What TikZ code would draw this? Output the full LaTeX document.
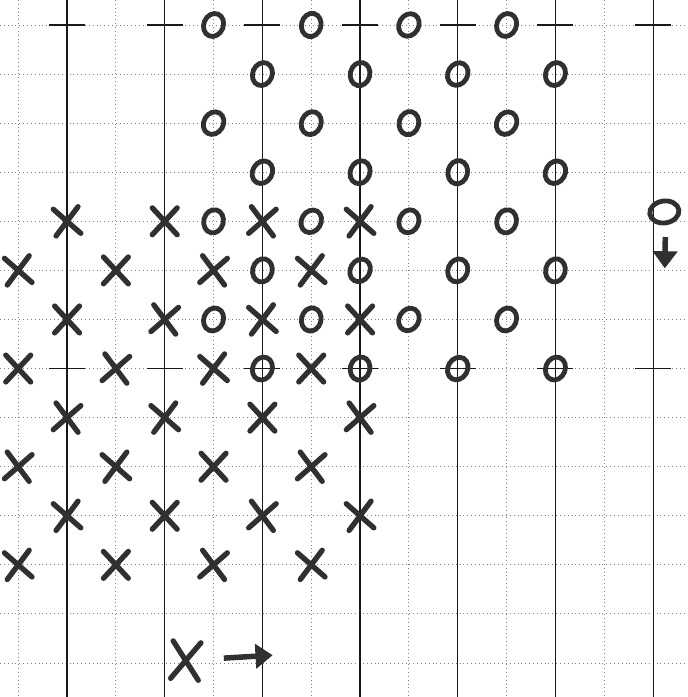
\documentclass[tikz,border=0pt]{standalone}
\usetikzlibrary{shapes.geometric,shapes.misc,arrows.meta,positioning}
\usepackage{xcolor}
\definecolor{Ink}{RGB}{48,48,48}
\definecolor{Pencil}{RGB}{25,25,25}
\definecolor{Dots}{RGB}{130,130,130}
\tikzset{
  omark/.style={ellipse,draw=Ink,line width=2.8pt,minimum width=.40cm,
                minimum height=.48cm,inner sep=0pt},
  xmark/.style={cross out,draw=Ink,line width=3.1pt,line cap=round,
                minimum width=.40cm,minimum height=.44cm,inner sep=0pt},
  bigo/.style={omark,minimum width=.60cm,minimum height=.45cm},
  bigx/.style={xmark,minimum width=.46cm,minimum height=.66cm},
  dotline/.style={draw=Dots,line width=.55pt,dash pattern=on .55pt off 1.7pt},
  solidrule/.style={draw=Pencil,line width=.7pt},
  legarrow/.style={-{Triangle[width=14pt,length=10pt]},draw=Ink,line width=3.2pt},
}

\begin{document}
\begin{tikzpicture}[x=1cm,y=-1.005cm]
  \useasboundingbox (-0.373,-0.509) rectangle (13.696,13.692);
  \fill[white] (-0.373,-0.509) rectangle (13.696,13.692);
  % grid paper
  \foreach \i in {0,2,...,12}
    \draw[dotline] (\i,-0.509) -- (\i,13.692);
  \foreach \j in {0,...,13}
    \draw[dotline] (-0.373,\j) -- (13.696,\j);
  \foreach \i in {1,3,...,13}
    \draw[solidrule] (\i,-0.509) -- (\i,13.692);
  \foreach \j in {0,7}
    \foreach \i in {1,3,...,13}
      \draw[solidrule] (\i-0.37,\j) -- (\i+0.37,\j);
  %
  % the O's
  \foreach \j in {0,...,7}{
    \foreach \k in {0,...,3}{
      \pgfmathtruncatemacro{\i}{4+2*\k+mod(\j,2)}
      \pgfmathtruncatemacro{\tilt}{-14-8*mod(\i+2*\j,3)}
      \node[omark,rotate=\tilt] (o\i-\j) at (\i,\j) {};
    }
  }
  % the X's
  \foreach \j in {4,...,11}{
    \foreach \k in {0,...,3}{
      \pgfmathtruncatemacro{\i}{2*\k+1-mod(\j,2)}
      \pgfmathtruncatemacro{\tilt}{-6+6*mod(\i+\j,3)}
      \node[xmark,rotate=\tilt] (x\i-\j) at (\i,\j) {};
    }
  }
  %
  % legend
  \node[bigo,rotate=8] (legO) at (13.23,3.81) {};
  \coordinate (otail) at (13.25,4.32);
  \coordinate (ohead) at (13.24,4.96);
  \draw[legarrow] (otail) -- (ohead);
  \node[bigx,rotate=-4] (legX) at (3.43,12.95) {};
  \coordinate (xtail) at (4.21,12.90);
  \coordinate (xhead) at (5.21,12.84);
  \draw[legarrow] (xtail) -- (xhead);
\end{tikzpicture}
\end{document}
